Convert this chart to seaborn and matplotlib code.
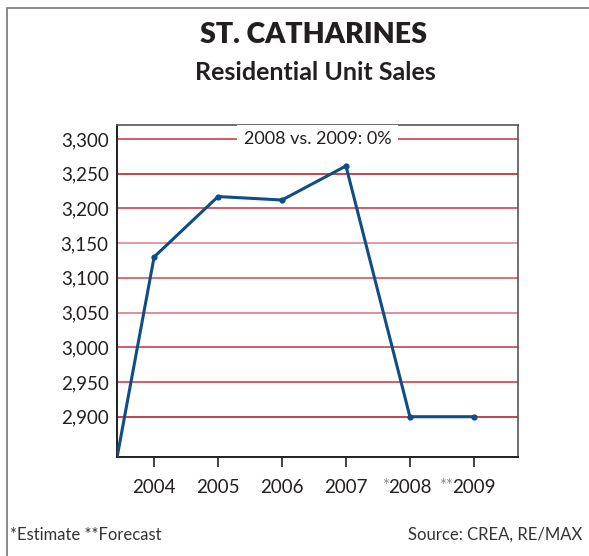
import matplotlib
matplotlib.use("Agg")
import matplotlib.pyplot as plt
import seaborn as sns
import pandas as pd
from matplotlib.patches import Rectangle

years = [2003, 2004, 2005, 2006, 2007, 2008, 2009]
sales = [2632, 3130, 3217, 3212, 3261, 2900, 2900]
tick_years = [2004, 2005, 2006, 2007, 2008, 2009]
tick_labels = ["2004", "2005", "2006", "2007", "2008", "2009"]
tick_marks = ["", "", "", "", "*", "**"]
y_ticks = [2900, 2950, 3000, 3050, 3100, 3150, 3200, 3250, 3300]
title = "ST. CATHARINES"
subtitle = "Residential Unit Sales"
note = "2008 vs. 2009: 0%"
footnote_left = "*Estimate **Forecast"
footnote_right = "Source: CREA, RE/MAX"

sns.set_theme(style="white")
plt.rcParams['font.family'] = ['Lato', 'DejaVu Sans']

df = pd.DataFrame({"year": years, "sales": sales})

fig = plt.figure(figsize=(5.89, 5.56), dpi=100)
ax = fig.add_axes([117/589, 1-457/556, (518-117)/589, (457-125)/556])

grid_colors = ["#b0141e", "#c8323a", "#c8323a", "#d97078", "#cc4a52",
               "#d98088", "#c8323a", "#b0141e", "#c8323a"]
for yv, c in zip(y_ticks, grid_colors):
    ax.axhline(yv, color=c, lw=1.1, zorder=1)

sns.lineplot(data=df, x="year", y="sales", ax=ax, color="#0f4d88",
             lw=2.2, marker="o", markersize=4.5, markeredgewidth=0, zorder=3)
ax.set_xlim(2003.42, 2009.69)
ax.set_ylim(2842, 3320)
ax.set_xlabel("")
ax.set_ylabel("")
ax.set_yticks(y_ticks)
ax.set_yticklabels([f"{v:,}" for v in y_ticks], fontsize=13.5, color="#231f20")
ax.set_xticks(tick_years)
ax.set_xticklabels(tick_labels, fontsize=13.5, color="#231f20")
ax.tick_params(axis="x", direction="out", length=7, width=1.2, color="#231f20", pad=9, bottom=True)
ax.tick_params(axis="y", length=0, pad=6)

for side in ["left", "bottom"]:
    ax.spines[side].set_color("#231f20")
    ax.spines[side].set_linewidth(1.4)
for side in ["right", "top"]:
    ax.spines[side].set_color("#555555")
    ax.spines[side].set_linewidth(1.2)

ax.text(0.5, 3300, note, transform=ax.get_yaxis_transform(), ha="center", va="center",
        fontsize=13, color="#231f20", zorder=4,
        bbox=dict(boxstyle="square,pad=0.35", fc="white", ec="none"))

fig.text(314/589, 1-35/556, title, ha="center", va="center", fontsize=20.5,
         fontweight="heavy", color="#231f20")
fig.text(315/589, 1-72/556, subtitle, ha="center", va="center", fontsize=18,
         fontweight="bold", color="#231f20")
fig.text(10/589, 1-535/556, footnote_left, ha="left", va="center", fontsize=12, color="#333333")
fig.text(582/589, 1-535/556, footnote_right, ha="right", va="center", fontsize=12, color="#333333")

fig.patches.append(Rectangle((7/589, -0.05), 1.0, 1-8/556+0.05, transform=fig.transFigure,
                             fill=False, ec="#808080", lw=1.3))

# grey asterisks just left of the estimate / forecast year labels
fig.canvas.draw()
renderer = fig.canvas.get_renderer()
inv = fig.transFigure.inverted()
for lbl, m in zip(ax.get_xticklabels(), tick_marks):
    if m:
        bb = lbl.get_window_extent(renderer)
        x0, y1 = inv.transform((bb.x0 + 1, bb.y1 + 1))
        fig.text(x0, y1, m, ha="right", va="top", fontsize=12, color="#8a8a8a")

fig.savefig("out.png", dpi=100)
